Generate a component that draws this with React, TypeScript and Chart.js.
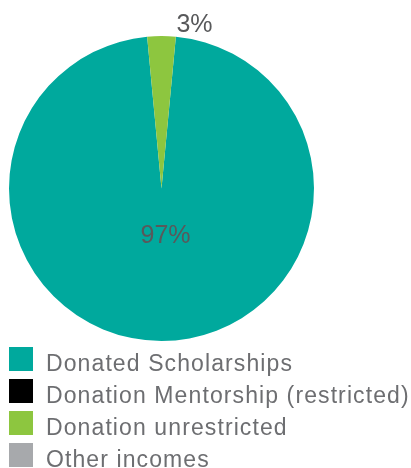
import React, { useEffect, useRef } from "react";
import { Chart, registerables } from "chart.js";

Chart.register(...registerables);

const categories = [
  "Donated Scholarships",
  "Donation Mentorship (restricted)",
  "Donation unrestricted",
  "Other incomes",
];
const shares = [97, 0, 3, 0];
const shareLabels = ["97%", "", "3%", ""];
const sliceColors = ["#00A99D", "#000000", "#8DC63F", "#A7A9AC"];

const FONT = "'Liberation Sans', Arial, sans-serif";

const labelPlugin = {
  id: "sliceLabels",
  afterDatasetsDraw(chart: any) {
    const meta = chart.getDatasetMeta(0);
    const ctx = chart.ctx;
    ctx.save();
    ctx.font = `25px ${FONT}`;
    ctx.fillStyle = "#58595B";
    ctx.textAlign = "center";
    ctx.textBaseline = "middle";
    meta.data.forEach((arc: any, i: number) => {
      const text = shareLabels[i];
      if (!text) return;
      const p = arc.getProps(["x", "y", "startAngle", "endAngle", "outerRadius", "circumference"], true);
      const mid = (p.startAngle + p.endAngle) / 2;
      let x: number, y: number;
      if (p.circumference < Math.PI / 6) {
        const d = p.outerRadius + 11;
        x = p.x + Math.cos(mid) * d + 33;
        y = p.y + Math.sin(mid) * d;
      } else {
        const d = p.outerRadius * 0.315;
        x = p.x + Math.cos(mid) * d + 4;
        y = p.y + Math.sin(mid) * d;
      }
      ctx.fillText(text, x, y);
    });
    ctx.restore();
  },
};

const legendPlugin = {
  id: "sideLegend",
  afterDraw(chart: any) {
    const ctx = chart.ctx;
    const area = chart.chartArea;
    ctx.save();
    ctx.font = `23px ${FONT}`;
    (ctx as any).letterSpacing = "1.1px";
    ctx.textAlign = "left";
    ctx.textBaseline = "alphabetic";
    const box = 24;
    const rowH = 32;
    const top0 = area.bottom + 6;
    categories.forEach((name, i) => {
      const y = top0 + i * rowH;
      ctx.fillStyle = sliceColors[i];
      ctx.fillRect(9, y, box, box);
      ctx.fillStyle = "#6D6E71";
      ctx.fillText(name, 46, y + box);
    });
    ctx.restore();
  },
};

export default function App() {
  const ref = useRef<HTMLCanvasElement>(null);
  useEffect(() => {
    document.body.style.margin = "0";
    const total = shares.reduce((a, b) => a + b, 0);
    const smallIdx = 2;
    const rotation = ((shares[smallIdx] / total) * 360) / 2;
    const chart = new Chart(ref.current!, {
      type: "pie",
      data: {
        labels: categories,
        datasets: [
          {
            data: shares,
            backgroundColor: sliceColors,
            borderWidth: 0,
          },
        ],
      },
      options: {
        responsive: false,
        animation: false,
        rotation,
        layout: { padding: { top: 36, left: 9, right: 97, bottom: 127 } },
        plugins: {
          tooltip: { enabled: false },
          legend: { display: false },
        },
      },
      plugins: [labelPlugin, legendPlugin],
    });
    return () => chart.destroy();
  }, []);
  return <canvas ref={ref} width={411} height={468} style={{ display: "block" }} />;
}
